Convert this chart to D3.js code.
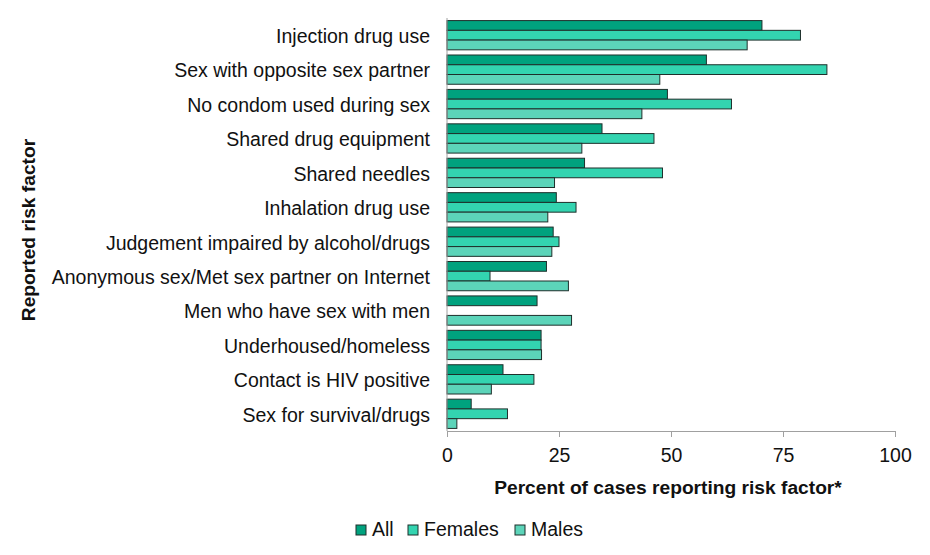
<!DOCTYPE html>
<html><head><meta charset="utf-8">
<script src="https://cdn.jsdelivr.net/npm/d3@7"></script>
<style>body{margin:0;background:#fff}svg{display:block;font-family:"Liberation Sans",Arial,sans-serif}</style>
</head><body>
<script>
const categories = ["Injection drug use","Sex with opposite sex partner","No condom used during sex","Shared drug equipment","Shared needles","Inhalation drug use","Judgement impaired by alcohol/drugs","Anonymous sex/Met sex partner on Internet","Men who have sex with men","Underhoused/homeless","Contact is HIV positive","Sex for survival/drugs"];
const seriesNames = ["All","Females","Males"];
const allValues =     [70.3,57.9,49.2,34.6,30.7,24.4,23.7,22.2,20.1,21.0,12.5,5.4];
const femalesValues = [78.9,84.8,63.5,46.2,48.1,28.8,25.0,9.6,null,21.0,19.4,13.5];
const malesValues =   [67.0,47.5,43.5,30.1,24.0,22.5,23.4,27.1,27.8,21.1,9.9,2.2];
const xTicks = [0,25,50,75,100];
const colors = ["#00A27E","#33D4B0","#5CD4B9"];

const W=930,H=555,FS=19.5;
const m={left:447,right:35,top:18,bottom:124};
const svg=d3.select("body").append("svg").attr("width",W).attr("height",H);
const x=d3.scaleLinear().domain([0,100]).range([m.left,W-m.right]);
const y=d3.scaleBand().domain(categories).range([m.top,H-m.bottom]).paddingInner(0.15).paddingOuter(0.075);
const ys=d3.scaleBand().domain(seriesNames).range([0,y.bandwidth()]);
const series=[allValues,femalesValues,malesValues];

const g=svg.append("g");
series.forEach((vals,si)=>{
  g.selectAll(null).data(categories.map((c,i)=>({c,v:vals[i]})).filter(d=>d.v!=null))
   .enter().append("rect")
   .attr("x",x(0)).attr("y",d=>y(d.c)+ys(seriesNames[si]))
   .attr("width",d=>x(d.v)-x(0)).attr("height",ys.bandwidth())
   .attr("fill",colors[si]).attr("stroke","#1e2f2b").attr("stroke-width",1);
});

// y axis
const ya=svg.append("g").attr("transform",`translate(${x(0)},0)`)
  .call(d3.axisLeft(y).tickSize(0).tickPadding(17));
ya.select(".domain").attr("stroke","#a0a0a0").attr("d",`M0,${m.top}V${H-m.bottom}`);
ya.selectAll("text").attr("font-size",FS).attr("fill","#111").attr("dy","0.4em")
  .attr("font-family","Liberation Sans, Arial, sans-serif");

// x axis
const xa=svg.append("g").attr("transform",`translate(0,${H-m.bottom})`)
  .call(d3.axisBottom(x).tickValues(xTicks).tickSize(6).tickPadding(11));
xa.select(".domain").attr("stroke","#a0a0a0");
xa.selectAll(".tick line").attr("stroke","#a0a0a0");
xa.selectAll("text").attr("font-size",FS).attr("fill","#111").attr("font-family","Liberation Sans, Arial, sans-serif");

svg.append("text").attr("x",668).attr("y",494).attr("text-anchor","middle")
  .attr("font-weight","bold").attr("font-size",19.2).attr("fill","#111")
  .text("Percent of cases reporting risk factor*");
svg.append("text").attr("transform","translate(35,230) rotate(-90)").attr("text-anchor","middle")
  .attr("font-weight","bold").attr("font-size",19.2).attr("fill","#111")
  .text("Reported risk factor");

// legend
const legX=[356,408,515];
const lg=svg.append("g");
seriesNames.forEach((s,i)=>{
  lg.append("rect").attr("x",legX[i]).attr("y",525).attr("width",10).attr("height",10)
    .attr("fill",colors[i]).attr("stroke","#1e2f2b").attr("stroke-width",1);
  lg.append("text").attr("x",legX[i]+16).attr("y",536).attr("font-size",FS).attr("fill","#111").text(s);
});
</script>
</body></html>
